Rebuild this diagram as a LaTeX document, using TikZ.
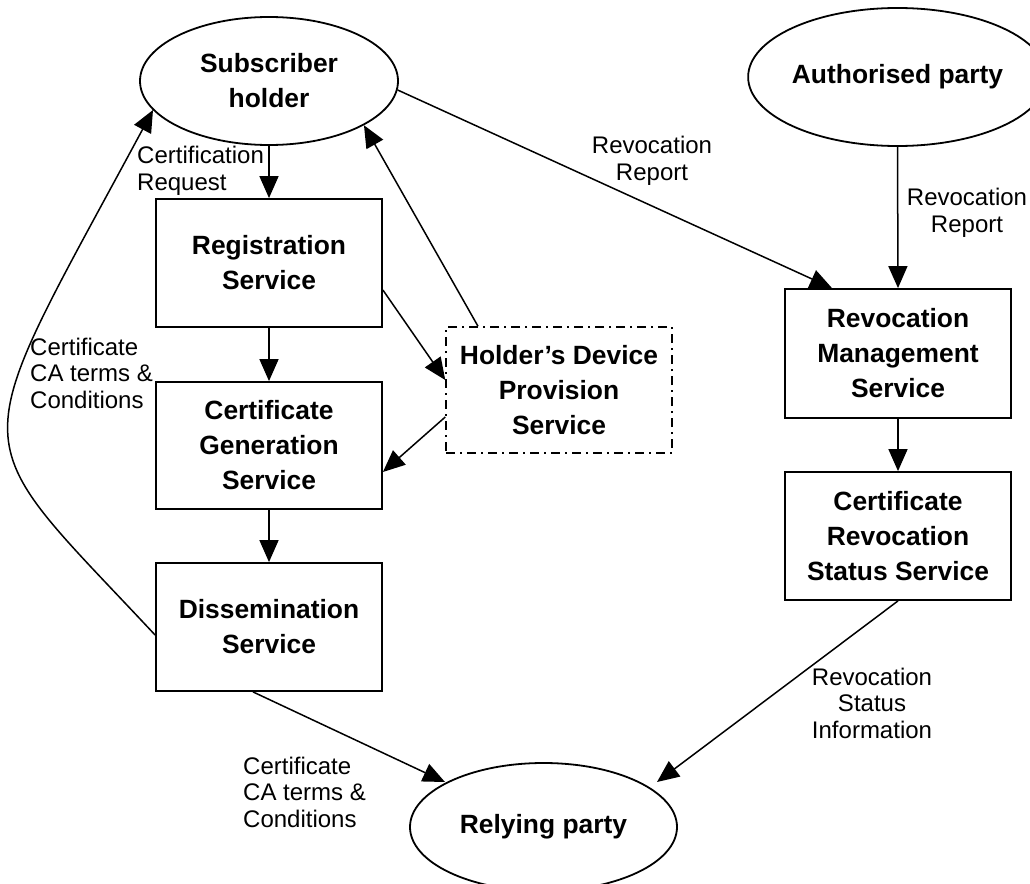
\documentclass[tikz,border=0pt]{standalone}
\usepackage{fontspec}
\setmainfont{Liberation Sans}
\usetikzlibrary{arrows.meta,calc,shapes.geometric}

\tikzset{
  service/.style={draw, line width=1.8pt, rectangle, minimum width=226pt,
    minimum height=128pt, inner sep=0pt, align=center,
    font=\fontsize{26.4}{35}\selectfont\bfseries},
  party/.style={draw, line width=1.8pt, ellipse, inner sep=0pt, align=center,
    font=\fontsize{26.4}{35}\selectfont\bfseries},
  optional/.style={service, dash pattern=on 9pt off 5pt on 2pt off 5pt, line width=1.5pt},
  flow/.style={line width=1.5pt, -{Triangle[length=22pt,width=19pt]}},
  note/.style={inner sep=0pt, font=\fontsize{24}{26.5}\selectfont}
}

\begin{document}
\begin{tikzpicture}[x=1pt, y=-1pt]
  \clip (0,0) rectangle (1030,883);

  % parties
  \node[party, minimum width=258pt, minimum height=128pt] (SH) at (269,81) {Subscriber\\holder};
  \node[party, minimum width=259pt, minimum height=138pt] (AP) at (897.5,77) {Authorised party};
  \node[party, minimum width=267pt, minimum height=128pt] (RP) at (543.5,827) {Relying party};

  % issuing chain
  \node[service] (RS) at (269,263) {Registration\\Service};
  \node[service, minimum height=127pt] (CG) at (269,445.5) {Certificate\\Generation\\Service};
  \node[service] (DS) at (269,627) {Dissemination\\Service};
  \node[optional, minimum height=126pt] (HD) at (559,390) {Holder’s Device\\Provision\\Service};

  % revocation chain
  \node[service, minimum height=129pt] (RM) at (898,353.5) {Revocation\\Management\\Service};
  \node[service] (CR) at (898,536) {Certificate\\Revocation\\Status Service};

  % connectors
  \draw[flow] (SH.south) -- (RS.north);
  \draw[flow] (RS.south) -- (CG.north);
  \draw[flow] (CG.south) -- (DS.north);
  \draw[flow] ($(RS.east)+(0,27)$) -- ($(HD.west)+(0,-10)$);
  \draw[flow] ($(HD.west)+(0,27)$) -- ($(CG.east)+(0,26.5)$);
  \draw[flow] ($(HD.north)+(-81,0)$) -- (SH.-25);
  \draw[flow] ($(DS.west)+(0,8)$) .. controls (-40,426) and (-39,467) .. ($(SH.center)+(-116,29)$);
  \draw[flow] (SH.-4) -- ($(RM.north)+(-66,0)$);
  \draw[flow] (AP.south) -- (RM.north);
  \draw[flow] (RM.south) -- (CR.north);
  \draw[flow] ($(DS.south)+(-16,0)$) -- ($(RP.center)+(-98.5,-45)$);
  \draw[flow] (CR.south) -- ($(RP.center)+(113.5,-45)$);

  % connector labels
  \node[note, anchor=west, align=left] (lCR) at (137,171) {Certification\\Request};
  \node[note, align=left, anchor=west] (lCA1) at (30,373) {Certificate\\CA terms \&\\Conditions};
  \node[note, align=center] (lRR1) at (652,161) {Revocation\\Report};
  \node[note, align=center] (lRR2) at (967,213) {Revocation\\Report};
  \node[note, align=center] (lRS) at (872,703) {Revocation\\Status\\Information};
  \node[note, align=left, anchor=west] (lCA2) at (243,792) {Certificate\\CA terms \&\\Conditions};
\end{tikzpicture}
\end{document}
